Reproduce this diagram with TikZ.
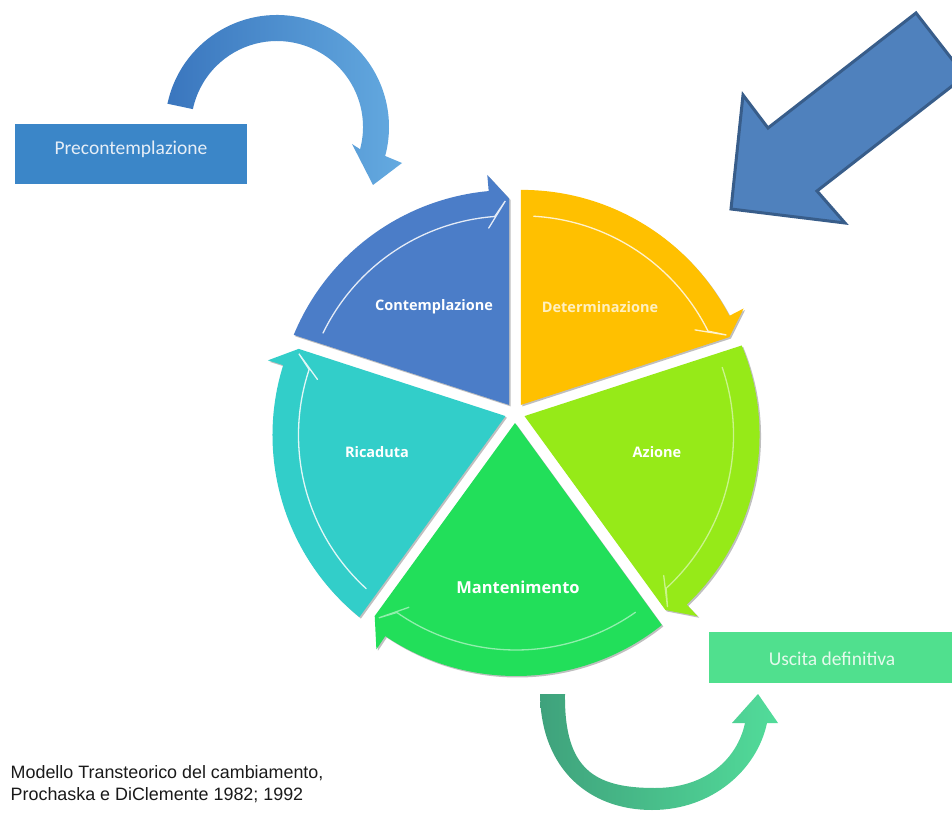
\documentclass[tikz,border=0pt]{standalone}
\usepackage{fontspec}
\setmainfont{Liberation Sans}
\newfontfamily\secfont{Open Sans}
\newfontfamily\boxfont{Carlito}
\usetikzlibrary{calc}
\definecolor{contc}{HTML}{4B7DC8}
\definecolor{detc}{HTML}{FFC000}
\definecolor{azc}{HTML}{96EA18}
\definecolor{manc}{HTML}{22DF5A}
\definecolor{ricc}{HTML}{32CEC9}
\definecolor{dettext}{HTML}{FFF0C0}
\definecolor{precbox}{HTML}{3B86C8}
\definecolor{prectext}{HTML}{E6EEF7}
\definecolor{precA}{HTML}{3A76BE}
\definecolor{precB}{HTML}{64AAE0}
\definecolor{uscbox}{HTML}{50E08E}
\definecolor{usctext}{HTML}{E4FAEC}
\definecolor{uscA}{HTML}{3FA27C}
\definecolor{uscB}{HTML}{52DC9A}
\definecolor{bigfill}{HTML}{4F81BD}
\definecolor{bigdraw}{HTML}{385D8A}
\definecolor{captext}{HTML}{1A1A1A}

% sector: color, shift angle, start point, start angle, end angle, tip point
\newcommand\sectorfill[6]{%
 \pgfmathsetmacro\aE{#5+5}%
 \begin{scope}[shift={(#2:10pt)}]
  \begin{scope}[shift={(1.5pt,-1.5pt)}]
   \fill[black,opacity=0.25] (515,399) -- (#3) arc[start angle=#4,end angle=\aE,radius=234pt]
     -- ([shift={(516,380)}]\aE:250pt) -- (#6) -- cycle;
  \end{scope}
  \fill[#1] (515,399) -- (#3) arc[start angle=#4,end angle=\aE,radius=234pt]
     -- ([shift={(516,380)}]\aE:250pt) -- (#6) -- cycle;
 \end{scope}}

% inner white harpoon: shift angle, start angle, end angle, opacity
\newcommand\sectorline[4]{%
 \pgfmathsetmacro\aA{#2-3.5}\pgfmathsetmacro\aB{#3+4}%
 \pgfmathsetmacro\aC{#3+1}\pgfmathsetmacro\aD{#3+6}%
 \begin{scope}[shift={(#1:10pt)}]
  \draw[innerline,opacity=#4] ([shift={(516,380)}]\aA:208pt) arc[start angle=\aA,end angle=\aB,radius=208pt]
    -- ([shift={(516,380)}]\aC:223pt) -- ([shift={(516,380)}]\aD:197pt);
 \end{scope}}

\begin{document}
\begin{tikzpicture}[x=1pt,y=1pt,
  innerline/.style={draw=white,line width=1.3pt,line join=miter,line cap=round},
  seclab/.style={font=\secfont\bfseries\fontsize{14.5}{17}\selectfont,text=white,inner sep=0},
  boxtxt/.style={font=\boxfont\fontsize{19.5}{23}\selectfont,inner sep=0},
  captxt/.style={font=\fontsize{17.9}{22}\selectfont,text=captext,inner sep=0,anchor=base west},
  stagebox/.style={inner sep=0,outer sep=0}]
\useasboundingbox (0,0) rectangle (952,812);
\fill[white] (0,0) rectangle (952,812);
\clip (0,0) rectangle (952,812);

% ---- wheel ----
\sectorfill{contc}{126}{299.6,469.0}{157.6}{90.24}{515,605.4}
\sectorfill{ricc}{198}{368.9,198.0}{231.05}{157.6}{308.2,466.2}
\sectorfill{manc}{270}{661.8,197.0}{308.55}{231.05}{374.7,206.0}
\sectorfill{azc}{342}{732.2,469.6}{382.5}{308.55}{655.9,205.1}
\sectorfill{detc}{54}{515,614}{90.24}{22.5}{723.5,466.8}

\sectorline{126}{157.6}{90.24}{0.85}
\sectorline{198}{231.05}{157.6}{0.85}
\sectorline{270}{308.55}{231.05}{0.5}
\sectorline{342}{382.5}{308.55}{0.5}
\sectorline{54}{90.24}{22.5}{0.8}

\node[seclab] (lcont) at (434,505) {Contemplazione};
\node[seclab,text=dettext] (ldet) at (600,505) {Determinazione};
\node[seclab] (lric) at (377,360) {Ricaduta};
\node[seclab] (laz) at (657,360) {Azione};
\node[seclab,font=\secfont\bfseries\fontsize{16.5}{19}\selectfont] (lman) at (518,225) {Mantenimento};

% ---- Precontemplazione box and curved arrow ----
\node[stagebox,fill=precbox,minimum width=232pt,minimum height=60pt] (prec) at (131,658) {};
\node[boxtxt,text=prectext,anchor=base] (prect) at (131,657) {Precontemplazione};

\coordinate (ptip) at (373,627);
\shade[left color=precA,right color=precB]
  ([shift={(277,685)}]168:112pt) arc[start angle=168,end angle=-15,radius=112pt]
  -- (402,649) -- (ptip) -- (352,668)
  -- ([shift={(277,685)}]-15:86pt) arc[start angle=-15,end angle=168,radius=86pt] -- cycle;

% ---- big blue arrow ----
\filldraw[fill=bigfill,draw=bigdraw,line width=3pt,line join=miter]
  (916,799) -- (965,736) -- (817,621) -- (845,589) -- (731,603) -- (743,717) -- (768,684) -- cycle;

% ---- Uscita definitiva box and U arrow ----
\node[stagebox,fill=uscbox,minimum width=246pt,minimum height=51pt] (usc) at (832,154.5) {};
\node[boxtxt,text=usctext,anchor=base] (usct) at (832,147) {Uscita definitiva};

\coordinate (utip) at (758,118);
\shade[left color=uscA,right color=uscB]
  (540,118) .. controls (541,42) and (590,2) .. (652,2)
  .. controls (712,2) and (757,42) .. (767,89)
  -- (778,89) -- (utip) -- (732,89) -- (745,89)
  .. controls (737,52) and (705,24) .. (655,24)
  .. controls (595,24) and (564,42) .. (565,118) -- cycle;

% ---- caption ----
\node[captxt] (cap1) at (10.5,34) {Modello Transteorico del cambiamento,};
\node[captxt] (cap2) at (10.5,12) {Prochaska e DiClemente 1982; 1992};
\end{tikzpicture}
\end{document}
